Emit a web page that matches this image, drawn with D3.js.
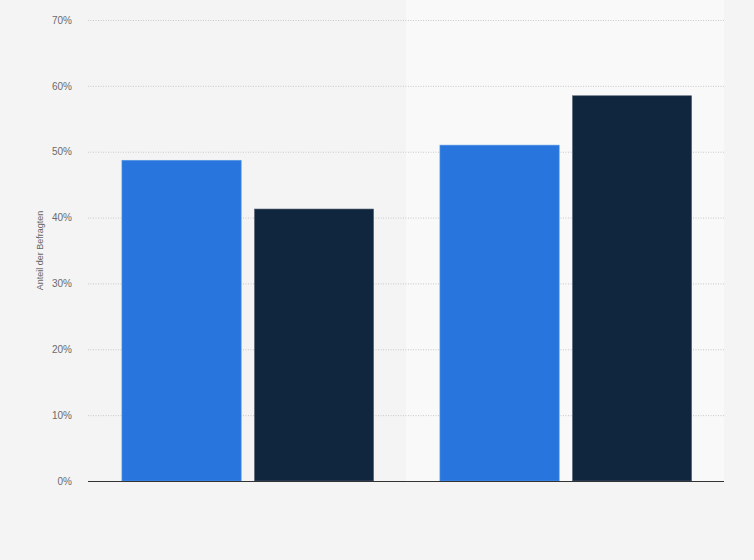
<!DOCTYPE html>
<html>
<head>
<meta charset="utf-8">
<script src="https://cdn.jsdelivr.net/npm/d3@7"></script>
<style>
  body { margin: 0; background: #f4f4f4; }
  svg { display: block; font-family: "Liberation Sans", Arial, sans-serif; }
</style>
</head>
<body>
<script>
// data
var categories = ["Gruppe 1", "Gruppe 2"];
var series = ["Serie A", "Serie B"];
var valuesA = [48.7, 51.0];
var valuesB = [41.3, 58.5];
var yTicks = [0, 10, 20, 30, 40, 50, 60, 70];
var colors = ["#2876dd", "#10263f"];

var width = 754;
var height = 560;
var margin = { top: 20, right: 30, bottom: 79, left: 88 };

var svg = d3.select("body").append("svg")
    .attr("width", width)
    .attr("height", height);

svg.append("rect")
    .attr("width", width)
    .attr("height", height)
    .attr("fill", "#f4f4f4");

var x0 = d3.scaleBand()
    .domain(categories)
    .range([margin.left, width - margin.right])
    .padding(0);

var x1 = d3.scaleBand()
    .domain(series)
    .range([0.8, x0.bandwidth() + 0.8])
    .paddingInner(0.1)
    .paddingOuter(0.25);

var y = d3.scaleLinear()
    .domain([0, 70])
    .range([height - margin.bottom, margin.top]);

// lighter band behind the second group
svg.append("rect")
    .attr("x", x0(categories[1]))
    .attr("y", 0)
    .attr("width", x0.bandwidth())
    .attr("height", y(0))
    .attr("fill", "#f9f9f9");

// grid
var yAxis = d3.axisLeft(y)
    .tickValues(yTicks)
    .tickSize(-(width - margin.left - margin.right))
    .tickPadding(16)
    .tickFormat(function(d) { return d + "%"; });

var gy = svg.append("g")
    .attr("transform", "translate(" + margin.left + ",0)")
    .call(yAxis);
gy.select(".domain").remove();
gy.selectAll(".tick line")
    .attr("stroke", "#c8c8c8")
    .attr("stroke-dasharray", "1,1.5");
gy.selectAll(".tick text")
    .attr("fill", "#6b6b6b")
    .attr("font-size", 10)
    .attr("font-family", "'Liberation Sans', Arial, sans-serif");

// bars
var rows = categories.map(function(c, i) {
    return { cat: c, vals: [valuesA[i], valuesB[i]] };
});

var groups = svg.selectAll("g.group")
    .data(rows)
    .enter()
    .append("g")
    .attr("class", "group")
    .attr("transform", function(d) { return "translate(" + x0(d.cat) + ",0)"; });

groups.selectAll("rect")
    .data(function(d) { return d.vals.map(function(v, j) { return { s: series[j], v: v, j: j }; }); })
    .enter()
    .append("rect")
    .attr("x", function(d) { return x1(d.s); })
    .attr("y", function(d) { return y(d.v); })
    .attr("width", x1.bandwidth())
    .attr("height", function(d) { return y(0) - y(d.v); })
    .attr("fill", function(d) { return colors[d.j]; })
    .attr("stroke", function(d) { return d.j === 0 ? "#5a97e6" : "#5d6a78"; })
    .attr("stroke-width", 0.6);

// zero line
svg.append("line")
    .attr("x1", margin.left)
    .attr("x2", width - margin.right)
    .attr("y1", y(0) + 0.5)
    .attr("y2", y(0) + 0.5)
    .attr("stroke", "#333")
    .attr("stroke-width", 1);

// y axis title
svg.append("text")
    .attr("transform", "translate(43," + ((margin.top + y(0)) / 2) + ") rotate(-90)")
    .attr("text-anchor", "middle")
    .attr("fill", "#666")
    .attr("font-size", 9)
    .text("Anteil der Befragten");
</script>
</body>
</html>
